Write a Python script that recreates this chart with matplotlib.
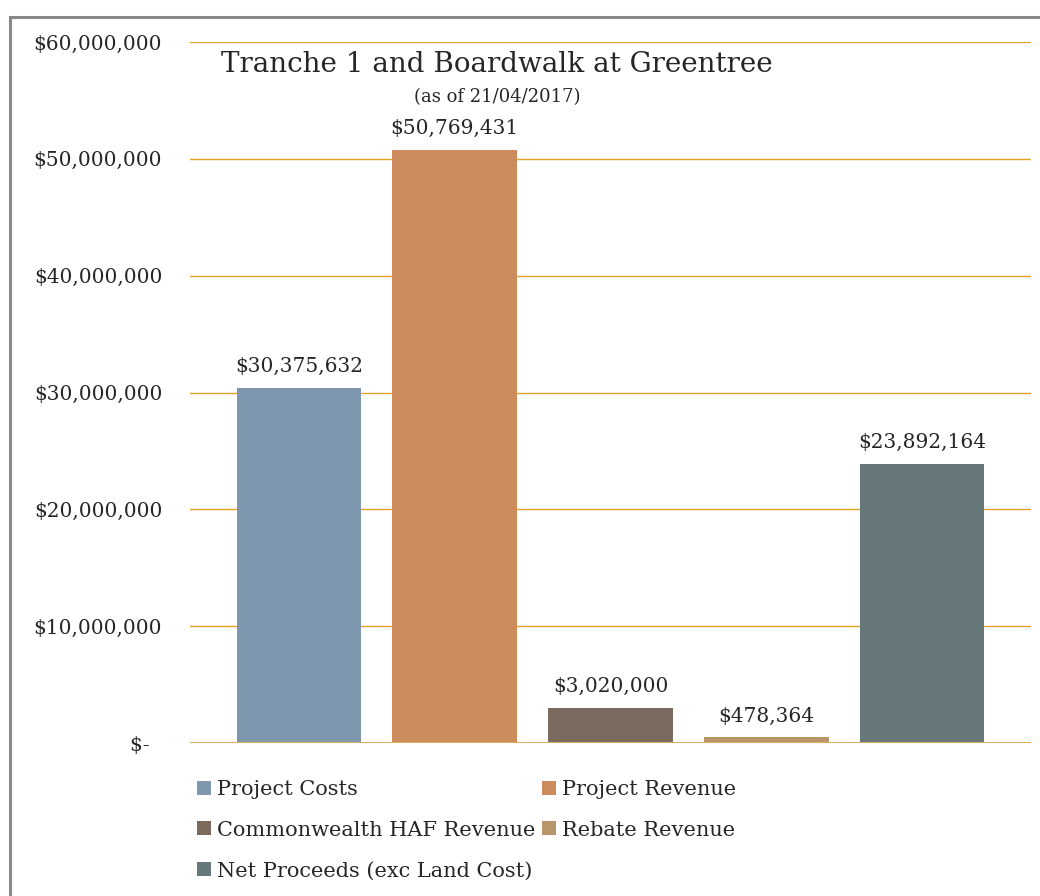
import matplotlib
matplotlib.use("Agg")
import matplotlib.pyplot as plt
from matplotlib.patches import Rectangle, Patch
from matplotlib.ticker import FixedLocator

series = ["Project Costs", "Project Revenue", "Commonwealth HAF Revenue",
          "Rebate Revenue", "Net Proceeds (exc Land Cost)"]
values = [30375632, 50769431, 3020000, 478364, 23892164]
colors = ["#7F97AE", "#CD8C5E", "#7B6A5E", "#B9956B", "#66787A"]
yticks = [0, 10000000, 20000000, 30000000, 40000000, 50000000, 60000000]
ytick_labels = ["$-\u2007", "$10,000,000", "$20,000,000", "$30,000,000",
                "$40,000,000", "$50,000,000", "$60,000,000"]

plt.rcParams['font.family'] = ['DejaVu Serif']
TXT = "#262626"

fig = plt.figure(figsize=(10.4, 8.96), dpi=100)
ax = fig.add_axes([190/1040, 1-743/896, (1031-190)/1040, (743-42)/896])

x = list(range(len(values)))
bars = ax.bar(x, values, width=0.8, color=colors, zorder=3)
for xi, v in zip(x, values):
    ax.annotate(f"${v:,.0f}", (xi, v), xytext=(0, 8.5), textcoords="offset points",
                ha="center", va="bottom", fontsize=14.5, color=TXT)

ax.set_xlim(-0.7, 4.7)
ax.set_ylim(0, 60000000)
ax.yaxis.set_major_locator(FixedLocator(yticks))
ax.set_yticklabels(ytick_labels)
ax.tick_params(axis='y', length=0, pad=20, labelsize=14.5, labelcolor=TXT)
ax.set_xticks([])
for s in ax.spines.values():
    s.set_visible(False)
ax.grid(axis='y', color="#E4A227", lw=1.0, zorder=0)
ax.axhline(0, color="#DDAD5A", lw=1.5, zorder=4)

fig.text(497/1040, 1-64/896, "Tranche 1 and Boardwalk at Greentree",
         ha="center", va="center", fontsize=20, color=TXT)
fig.text(497/1040, 1-97/896, "(as of 21/04/2017)",
         ha="center", va="center", fontsize=13, color=TXT)

# outer frame
fig.patches.append(Rectangle((10/1040, -0.1), 1.2, (896-17)/896 + 0.1,
                             transform=fig.transFigure, fill=False,
                             edgecolor="#888888", lw=2.2))

handles = [Patch(facecolor=c, edgecolor='none') for c in colors]
order = [0, 2, 4, 1, 3]
leg = fig.legend([handles[i] for i in order], [series[i] for i in order],
                 ncol=2, loc="upper left", bbox_to_anchor=(197/1040, 1-780/896),
                 frameon=False, fontsize=15, handlelength=0.65, handleheight=0.65,
                 handletextpad=0.3, columnspacing=0.35, labelspacing=1.04,
                 borderaxespad=0, borderpad=0)
for t in leg.get_texts():
    t.set_color(TXT)

fig.savefig("out.png", dpi=100)
